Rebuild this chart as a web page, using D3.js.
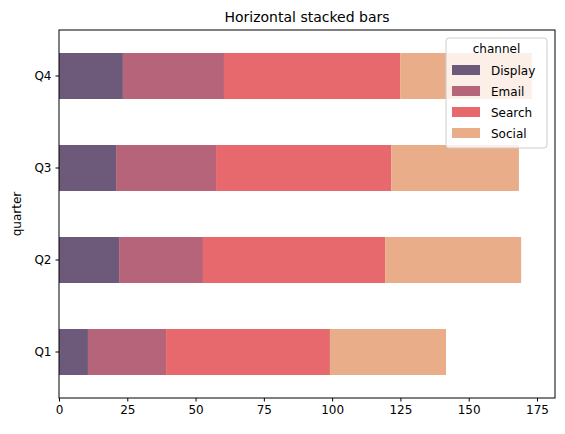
<!DOCTYPE html>
<html><head><meta charset="utf-8">
<script src="https://cdn.jsdelivr.net/npm/d3@7"></script>
<style>body{margin:0;background:#fff}text{font-family:"DejaVu Sans",sans-serif}</style>
</head><body><svg id="c" width="565" height="434"></svg>
<script>
const quarters = ['Q1', 'Q2', 'Q3', 'Q4'];
const channels = ['Display', 'Email', 'Search', 'Social'];
const colors = ['#6d5a7b', '#b6647a', '#e7696d', '#eaad8a'];
const display = [10.6, 22.0, 20.9, 23.4];
const email = [28.6, 30.7, 36.6, 37.0];
const search = [60.0, 66.7, 64.1, 64.5];
const social = [42.5, 49.8, 46.8, 48.2];
const xTicks = [0, 25, 50, 75, 100, 125, 150, 175];

const series = [display, email, search, social];
const rows = quarters.map((q, i) => {
	const r = { quarter: q };
	channels.forEach((c, j) => r[c] = series[j][i]);
	return r;
});
const stacked = d3.stack().keys(channels)(rows);

const mLeft = 59, mRight = 555, mTop = 30, mBottom = 398;
const svg = d3.select('#c');
const x = d3.scaleLinear().domain([0, 181.6]).range([mLeft, mRight]);
const y = d3.scaleBand().domain(quarters.slice().reverse()).range([mTop, mBottom]).padding(0.5).paddingOuter(0.25);

stacked.forEach((s, j) => {
	svg.append('g').selectAll('rect').data(s).join('rect')
		.attr('x', d => x(d[0]))
		.attr('width', d => x(d[1]) - x(d[0]))
		.attr('y', d => y(d.data.quarter))
		.attr('height', y.bandwidth())
		.attr('fill', colors[j]);
});

svg.append('rect').attr('x', mLeft).attr('y', mTop).attr('width', mRight - mLeft).attr('height', mBottom - mTop)
	.attr('fill', 'none').attr('stroke', '#000').attr('stroke-width', 1);

const xa = svg.append('g').attr('transform', `translate(0,${mBottom})`)
	.call(d3.axisBottom(x).tickValues(xTicks).tickSizeOuter(0).tickSize(3.5).tickPadding(4));
const ya = svg.append('g').attr('transform', `translate(${mLeft},0)`)
	.call(d3.axisLeft(y).tickSizeOuter(0).tickSize(3.5).tickPadding(4));
[xa, ya].forEach(a => {
	a.select('.domain').remove();
	a.selectAll('text').attr('font-size', 12).attr('fill', '#000');
	a.selectAll('line').attr('stroke', '#000');
});

svg.append('text').attr('x', (mLeft + mRight) / 2).attr('y', 22).attr('text-anchor', 'middle')
	.attr('font-size', 14).text('Horizontal stacked bars');
svg.append('text').attr('transform', `translate(21,${(mTop + mBottom) / 2}) rotate(-90)`)
	.attr('text-anchor', 'middle').attr('font-size', 12).text('quarter');

// legend
const lg = svg.append('g').attr('transform', 'translate(446,38)');
lg.append('rect').attr('width', 101).attr('height', 110).attr('rx', 3)
	.attr('fill', '#fff').attr('fill-opacity', 0.8).attr('stroke', '#ccc');
lg.append('text').attr('x', 50.5).attr('y', 15).attr('text-anchor', 'middle').attr('font-size', 12).text('channel');
channels.forEach((c, i) => {
	lg.append('rect').attr('x', 6).attr('y', 27 + i * 21).attr('width', 28).attr('height', 10).attr('fill', colors[i]);
	lg.append('text').attr('x', 45).attr('y', 37 + i * 21).attr('font-size', 12).text(c);
});
</script></body></html>
